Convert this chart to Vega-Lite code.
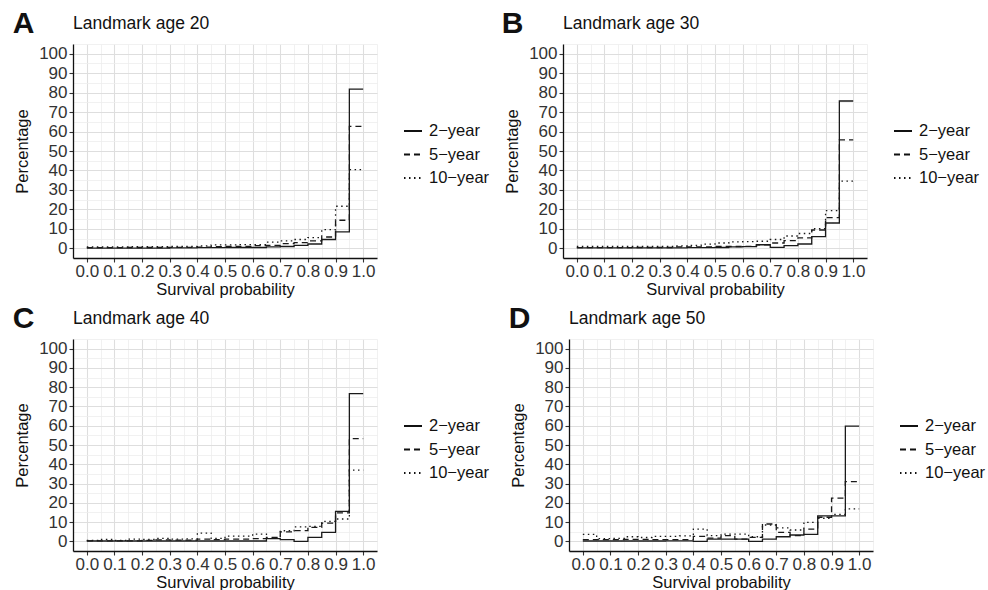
{
  "$schema": "https://vega.github.io/schema/vega-lite/v6.json",
  "background": "#ffffff",
  "padding": {"left": 12, "top": 8, "right": 5, "bottom": 5},
  "datasets": {
    "A": [
      {"x": 0.00, "2−year": 0.1, "5−year": 0.3, "10−year": 0.7},
      {"x": 0.05, "2−year": 0.1, "5−year": 0.3, "10−year": 0.7},
      {"x": 0.10, "2−year": 0.1, "5−year": 0.3, "10−year": 0.7},
      {"x": 0.15, "2−year": 0.1, "5−year": 0.4, "10−year": 0.8},
      {"x": 0.20, "2−year": 0.1, "5−year": 0.4, "10−year": 0.8},
      {"x": 0.25, "2−year": 0.1, "5−year": 0.4, "10−year": 0.8},
      {"x": 0.30, "2−year": 0.2, "5−year": 0.5, "10−year": 0.9},
      {"x": 0.35, "2−year": 0.2, "5−year": 0.5, "10−year": 1.0},
      {"x": 0.40, "2−year": 0.3, "5−year": 0.6, "10−year": 1.2},
      {"x": 0.45, "2−year": 0.3, "5−year": 0.8, "10−year": 1.7},
      {"x": 0.50, "2−year": 0.4, "5−year": 0.9, "10−year": 1.7},
      {"x": 0.55, "2−year": 0.4, "5−year": 1.0, "10−year": 1.9},
      {"x": 0.60, "2−year": 0.4, "5−year": 1.4, "10−year": 1.9},
      {"x": 0.65, "2−year": 0.7, "5−year": 1.5, "10−year": 3.2},
      {"x": 0.70, "2−year": 0.9, "5−year": 2.4, "10−year": 3.8},
      {"x": 0.75, "2−year": 1.5, "5−year": 2.9, "10−year": 4.5},
      {"x": 0.80, "2−year": 2.2, "5−year": 3.8, "10−year": 5.5},
      {"x": 0.85, "2−year": 4.5, "5−year": 5.8, "10−year": 9.6},
      {"x": 0.90, "2−year": 8.4, "5−year": 14.4, "10−year": 21.6},
      {"x": 0.95, "2−year": 81.8, "5−year": 62.7, "10−year": 40.4},
      {"x": 1.00, "2−year": 81.8, "5−year": 62.7, "10−year": 40.4}
    ],
    "B": [
      {"x": 0.00, "2−year": 0.2, "5−year": 0.3, "10−year": 0.9},
      {"x": 0.05, "2−year": 0.2, "5−year": 0.3, "10−year": 0.9},
      {"x": 0.10, "2−year": 0.2, "5−year": 0.3, "10−year": 0.9},
      {"x": 0.15, "2−year": 0.2, "5−year": 0.3, "10−year": 0.9},
      {"x": 0.20, "2−year": 0.2, "5−year": 0.4, "10−year": 0.9},
      {"x": 0.25, "2−year": 0.2, "5−year": 0.4, "10−year": 0.9},
      {"x": 0.30, "2−year": 0.2, "5−year": 0.4, "10−year": 0.9},
      {"x": 0.35, "2−year": 0.2, "5−year": 0.7, "10−year": 1.2},
      {"x": 0.40, "2−year": 0.3, "5−year": 0.7, "10−year": 1.5},
      {"x": 0.45, "2−year": 0.3, "5−year": 0.7, "10−year": 2.1},
      {"x": 0.50, "2−year": 0.4, "5−year": 0.9, "10−year": 2.7},
      {"x": 0.55, "2−year": 0.7, "5−year": 0.9, "10−year": 3.3},
      {"x": 0.60, "2−year": 0.8, "5−year": 1.0, "10−year": 3.4},
      {"x": 0.65, "2−year": 1.8, "5−year": 1.7, "10−year": 3.6},
      {"x": 0.70, "2−year": 0.5, "5−year": 2.7, "10−year": 4.5},
      {"x": 0.75, "2−year": 1.4, "5−year": 3.9, "10−year": 6.3},
      {"x": 0.80, "2−year": 2.2, "5−year": 5.3, "10−year": 7.6},
      {"x": 0.85, "2−year": 6.0, "5−year": 9.4, "10−year": 10.1},
      {"x": 0.90, "2−year": 13.0, "5−year": 15.8, "10−year": 19.4},
      {"x": 0.95, "2−year": 75.7, "5−year": 55.7, "10−year": 34.5},
      {"x": 1.00, "2−year": 75.7, "5−year": 55.7, "10−year": 34.5}
    ],
    "C": [
      {"x": 0.00, "2−year": 0.2, "5−year": 0.3, "10−year": 0.5},
      {"x": 0.05, "2−year": 0.2, "5−year": 0.3, "10−year": 1.0},
      {"x": 0.10, "2−year": 0.2, "5−year": 0.3, "10−year": 0.5},
      {"x": 0.15, "2−year": 0.2, "5−year": 0.3, "10−year": 1.2},
      {"x": 0.20, "2−year": 0.2, "5−year": 0.5, "10−year": 1.0},
      {"x": 0.25, "2−year": 0.2, "5−year": 0.8, "10−year": 1.5},
      {"x": 0.30, "2−year": 0.2, "5−year": 0.6, "10−year": 1.2},
      {"x": 0.35, "2−year": 0.2, "5−year": 0.6, "10−year": 1.3},
      {"x": 0.40, "2−year": 0.2, "5−year": 1.2, "10−year": 4.3},
      {"x": 0.45, "2−year": 0.2, "5−year": 0.9, "10−year": 1.5},
      {"x": 0.50, "2−year": 0.2, "5−year": 1.2, "10−year": 2.7},
      {"x": 0.55, "2−year": 0.2, "5−year": 1.2, "10−year": 2.7},
      {"x": 0.60, "2−year": 0.2, "5−year": 1.4, "10−year": 3.8},
      {"x": 0.65, "2−year": 1.4, "5−year": 2.0, "10−year": 1.5},
      {"x": 0.70, "2−year": 0.9, "5−year": 4.9, "10−year": 5.5},
      {"x": 0.75, "2−year": 0.0, "5−year": 5.6, "10−year": 7.5},
      {"x": 0.80, "2−year": 2.1, "5−year": 7.3, "10−year": 7.8},
      {"x": 0.85, "2−year": 4.7, "5−year": 9.5, "10−year": 10.4},
      {"x": 0.90, "2−year": 15.6, "5−year": 14.8, "10−year": 11.6},
      {"x": 0.95, "2−year": 76.7, "5−year": 53.3, "10−year": 37.0},
      {"x": 1.00, "2−year": 76.7, "5−year": 53.3, "10−year": 37.0}
    ],
    "D": [
      {"x": 0.00, "2−year": 0.2, "5−year": 0.9, "10−year": 3.6},
      {"x": 0.05, "2−year": 0.2, "5−year": 0.9, "10−year": 1.4},
      {"x": 0.10, "2−year": 0.2, "5−year": 0.9, "10−year": 1.5},
      {"x": 0.15, "2−year": 0.2, "5−year": 1.0, "10−year": 2.4},
      {"x": 0.20, "2−year": 0.2, "5−year": 1.0, "10−year": 2.0},
      {"x": 0.25, "2−year": 0.2, "5−year": 0.9, "10−year": 2.6},
      {"x": 0.30, "2−year": 0.3, "5−year": 0.9, "10−year": 2.6},
      {"x": 0.35, "2−year": 0.3, "5−year": 0.9, "10−year": 2.8},
      {"x": 0.40, "2−year": 0.0, "5−year": 2.6, "10−year": 6.4},
      {"x": 0.45, "2−year": 1.2, "5−year": 1.7, "10−year": 3.0},
      {"x": 0.50, "2−year": 1.2, "5−year": 3.0, "10−year": 3.8},
      {"x": 0.55, "2−year": 1.2, "5−year": 1.2, "10−year": 3.8},
      {"x": 0.60, "2−year": 0.0, "5−year": 2.1, "10−year": 2.4},
      {"x": 0.65, "2−year": 1.2, "5−year": 9.0, "10−year": 8.5},
      {"x": 0.70, "2−year": 2.4, "5−year": 4.7, "10−year": 7.0},
      {"x": 0.75, "2−year": 3.3, "5−year": 3.0, "10−year": 5.9},
      {"x": 0.80, "2−year": 3.6, "5−year": 6.4, "10−year": 9.9},
      {"x": 0.85, "2−year": 13.2, "5−year": 12.5, "10−year": 12.0},
      {"x": 0.90, "2−year": 13.2, "5−year": 22.4, "10−year": 14.0},
      {"x": 0.95, "2−year": 59.8, "5−year": 31.0, "10−year": 16.9},
      {"x": 1.00, "2−year": 59.8, "5−year": 31.0, "10−year": 16.9}
    ]
  },
  "concat": [
    {
      "hconcat": [
        {
          "title": {"text": "A", "anchor": "start", "fontSize": 30, "fontWeight": "bold", "color": "#111111", "offset": -24, "dx": -2},
          "hconcat": [
            {
              "width": 304, "height": 214,
              "title": {"text": "Landmark age 20", "anchor": "start", "frame": "group", "fontSize": 17.5, "fontWeight": "normal", "color": "#111111", "offset": 3},
              "data": {"name": "A"},
              "transform": [{"fold": ["2−year", "5−year", "10−year"], "as": ["series", "pct"]}],
              "mark": {"type": "line", "interpolate": "step-after", "color": "#1a1a1a", "strokeWidth": 1.3},
              "encoding": {
                "x": {"field": "x", "type": "quantitative", "title": "Survival probability",
                  "scale": {"domain": [-0.05, 1.05], "nice": false, "zero": false},
                  "axis": {"values": [-0.05, 0, 0.05, 0.1, 0.15, 0.2, 0.25, 0.3, 0.35, 0.4, 0.45, 0.5, 0.55, 0.6, 0.65, 0.7, 0.75, 0.8, 0.85, 0.9, 0.95, 1, 1.05],
                    "labelExpr": "abs(round(datum.value*20)) % 2 == 0 ? format(datum.value, '.1f') : ''",
                    "tickOpacity": {"condition": {"test": "abs(round(datum.value*20)) % 2 == 1", "value": 0}, "value": 1},
                    "gridColor": {"condition": {"test": "abs(round(datum.value*20)) % 2 == 1", "value": "#ededed"}, "value": "#dedede"},
                    "gridWidth": {"condition": {"test": "abs(round(datum.value*20)) % 2 == 1", "value": 0.8}, "value": 1.1}}},
                "y": {"field": "pct", "type": "quantitative", "title": "Percentage",
                  "scale": {"domain": [-5, 105], "nice": false, "zero": false},
                  "axis": {"values": [-5, 0, 5, 10, 15, 20, 25, 30, 35, 40, 45, 50, 55, 60, 65, 70, 75, 80, 85, 90, 95, 100, 105],
                    "labelExpr": "abs(datum.value) % 10 == 5 ? '' : format(datum.value, 'd')",
                    "tickOpacity": {"condition": {"test": "abs(datum.value) % 10 == 5", "value": 0}, "value": 1},
                    "gridColor": {"condition": {"test": "abs(datum.value) % 10 == 5", "value": "#ededed"}, "value": "#dedede"},
                    "gridWidth": {"condition": {"test": "abs(datum.value) % 10 == 5", "value": 0.8}, "value": 1.1}}},
                "strokeDash": {"field": "series", "type": "nominal",
                  "scale": {"domain": ["2−year", "5−year", "10−year"], "range": [[1, 0], [6, 4], [1.5, 3.5]]},
                  "legend": {"title": null, "orient": "none", "legendX": 330, "legendY": 77}}
              }
            }
          ],
          "resolve": {"scale": {"strokeDash": "independent"}, "legend": {"strokeDash": "independent"}}
        },
        {
          "title": {"text": "B", "anchor": "start", "fontSize": 30, "fontWeight": "bold", "color": "#111111", "offset": -24, "dx": -3},
          "hconcat": [
            {
              "width": 304, "height": 214,
              "title": {"text": "Landmark age 30", "anchor": "start", "frame": "group", "fontSize": 17.5, "fontWeight": "normal", "color": "#111111", "offset": 3},
              "data": {"name": "B"},
              "transform": [{"fold": ["2−year", "5−year", "10−year"], "as": ["series", "pct"]}],
              "mark": {"type": "line", "interpolate": "step-after", "color": "#1a1a1a", "strokeWidth": 1.3},
              "encoding": {
                "x": {"field": "x", "type": "quantitative", "title": "Survival probability",
                  "scale": {"domain": [-0.05, 1.05], "nice": false, "zero": false},
                  "axis": {"values": [-0.05, 0, 0.05, 0.1, 0.15, 0.2, 0.25, 0.3, 0.35, 0.4, 0.45, 0.5, 0.55, 0.6, 0.65, 0.7, 0.75, 0.8, 0.85, 0.9, 0.95, 1, 1.05],
                    "labelExpr": "abs(round(datum.value*20)) % 2 == 0 ? format(datum.value, '.1f') : ''",
                    "tickOpacity": {"condition": {"test": "abs(round(datum.value*20)) % 2 == 1", "value": 0}, "value": 1},
                    "gridColor": {"condition": {"test": "abs(round(datum.value*20)) % 2 == 1", "value": "#ededed"}, "value": "#dedede"},
                    "gridWidth": {"condition": {"test": "abs(round(datum.value*20)) % 2 == 1", "value": 0.8}, "value": 1.1}}},
                "y": {"field": "pct", "type": "quantitative", "title": "Percentage",
                  "scale": {"domain": [-5, 105], "nice": false, "zero": false},
                  "axis": {"values": [-5, 0, 5, 10, 15, 20, 25, 30, 35, 40, 45, 50, 55, 60, 65, 70, 75, 80, 85, 90, 95, 100, 105],
                    "labelExpr": "abs(datum.value) % 10 == 5 ? '' : format(datum.value, 'd')",
                    "tickOpacity": {"condition": {"test": "abs(datum.value) % 10 == 5", "value": 0}, "value": 1},
                    "gridColor": {"condition": {"test": "abs(datum.value) % 10 == 5", "value": "#ededed"}, "value": "#dedede"},
                    "gridWidth": {"condition": {"test": "abs(datum.value) % 10 == 5", "value": 0.8}, "value": 1.1}}},
                "strokeDash": {"field": "series", "type": "nominal",
                  "scale": {"domain": ["2−year", "5−year", "10−year"], "range": [[1, 0], [6, 4], [1.5, 3.5]]},
                  "legend": {"title": null, "orient": "none", "legendX": 330, "legendY": 77}}
              }
            }
          ],
          "resolve": {"scale": {"strokeDash": "independent"}, "legend": {"strokeDash": "independent"}}
        }
      ],
      "spacing": 11,
      "resolve": {"scale": {"strokeDash": "independent"}, "legend": {"strokeDash": "independent"}}
    },
    {
      "hconcat": [
        {
          "title": {"text": "C", "anchor": "start", "fontSize": 30, "fontWeight": "bold", "color": "#111111", "offset": -24, "dx": -2},
          "hconcat": [
            {
              "width": 304, "height": 212,
              "title": {"text": "Landmark age 40", "anchor": "start", "frame": "group", "fontSize": 17.5, "fontWeight": "normal", "color": "#111111", "offset": 3},
              "data": {"name": "C"},
              "transform": [{"fold": ["2−year", "5−year", "10−year"], "as": ["series", "pct"]}],
              "mark": {"type": "line", "interpolate": "step-after", "color": "#1a1a1a", "strokeWidth": 1.3},
              "encoding": {
                "x": {"field": "x", "type": "quantitative", "title": "Survival probability",
                  "scale": {"domain": [-0.05, 1.05], "nice": false, "zero": false},
                  "axis": {"values": [-0.05, 0, 0.05, 0.1, 0.15, 0.2, 0.25, 0.3, 0.35, 0.4, 0.45, 0.5, 0.55, 0.6, 0.65, 0.7, 0.75, 0.8, 0.85, 0.9, 0.95, 1, 1.05],
                    "labelExpr": "abs(round(datum.value*20)) % 2 == 0 ? format(datum.value, '.1f') : ''",
                    "tickOpacity": {"condition": {"test": "abs(round(datum.value*20)) % 2 == 1", "value": 0}, "value": 1},
                    "gridColor": {"condition": {"test": "abs(round(datum.value*20)) % 2 == 1", "value": "#ededed"}, "value": "#dedede"},
                    "gridWidth": {"condition": {"test": "abs(round(datum.value*20)) % 2 == 1", "value": 0.8}, "value": 1.1}}},
                "y": {"field": "pct", "type": "quantitative", "title": "Percentage",
                  "scale": {"domain": [-5, 105], "nice": false, "zero": false},
                  "axis": {"values": [-5, 0, 5, 10, 15, 20, 25, 30, 35, 40, 45, 50, 55, 60, 65, 70, 75, 80, 85, 90, 95, 100, 105],
                    "labelExpr": "abs(datum.value) % 10 == 5 ? '' : format(datum.value, 'd')",
                    "tickOpacity": {"condition": {"test": "abs(datum.value) % 10 == 5", "value": 0}, "value": 1},
                    "gridColor": {"condition": {"test": "abs(datum.value) % 10 == 5", "value": "#ededed"}, "value": "#dedede"},
                    "gridWidth": {"condition": {"test": "abs(datum.value) % 10 == 5", "value": 0.8}, "value": 1.1}}},
                "strokeDash": {"field": "series", "type": "nominal",
                  "scale": {"domain": ["2−year", "5−year", "10−year"], "range": [[1, 0], [6, 4], [1.5, 3.5]]},
                  "legend": {"title": null, "orient": "none", "legendX": 330, "legendY": 77}}
              }
            }
          ],
          "resolve": {"scale": {"strokeDash": "independent"}, "legend": {"strokeDash": "independent"}}
        },
        {
          "title": {"text": "D", "anchor": "start", "fontSize": 30, "fontWeight": "bold", "color": "#111111", "offset": -24, "dx": -2},
          "hconcat": [
            {
              "width": 304, "height": 212,
              "title": {"text": "Landmark age 50", "anchor": "start", "frame": "group", "fontSize": 17.5, "fontWeight": "normal", "color": "#111111", "offset": 3},
              "data": {"name": "D"},
              "transform": [{"fold": ["2−year", "5−year", "10−year"], "as": ["series", "pct"]}],
              "mark": {"type": "line", "interpolate": "step-after", "color": "#1a1a1a", "strokeWidth": 1.3},
              "encoding": {
                "x": {"field": "x", "type": "quantitative", "title": "Survival probability",
                  "scale": {"domain": [-0.05, 1.05], "nice": false, "zero": false},
                  "axis": {"values": [-0.05, 0, 0.05, 0.1, 0.15, 0.2, 0.25, 0.3, 0.35, 0.4, 0.45, 0.5, 0.55, 0.6, 0.65, 0.7, 0.75, 0.8, 0.85, 0.9, 0.95, 1, 1.05],
                    "labelExpr": "abs(round(datum.value*20)) % 2 == 0 ? format(datum.value, '.1f') : ''",
                    "tickOpacity": {"condition": {"test": "abs(round(datum.value*20)) % 2 == 1", "value": 0}, "value": 1},
                    "gridColor": {"condition": {"test": "abs(round(datum.value*20)) % 2 == 1", "value": "#ededed"}, "value": "#dedede"},
                    "gridWidth": {"condition": {"test": "abs(round(datum.value*20)) % 2 == 1", "value": 0.8}, "value": 1.1}}},
                "y": {"field": "pct", "type": "quantitative", "title": "Percentage",
                  "scale": {"domain": [-5, 105], "nice": false, "zero": false},
                  "axis": {"values": [-5, 0, 5, 10, 15, 20, 25, 30, 35, 40, 45, 50, 55, 60, 65, 70, 75, 80, 85, 90, 95, 100, 105],
                    "labelExpr": "abs(datum.value) % 10 == 5 ? '' : format(datum.value, 'd')",
                    "tickOpacity": {"condition": {"test": "abs(datum.value) % 10 == 5", "value": 0}, "value": 1},
                    "gridColor": {"condition": {"test": "abs(datum.value) % 10 == 5", "value": "#ededed"}, "value": "#dedede"},
                    "gridWidth": {"condition": {"test": "abs(datum.value) % 10 == 5", "value": 0.8}, "value": 1.1}}},
                "strokeDash": {"field": "series", "type": "nominal",
                  "scale": {"domain": ["2−year", "5−year", "10−year"], "range": [[1, 0], [6, 4], [1.5, 3.5]]},
                  "legend": {"title": null, "orient": "none", "legendX": 330, "legendY": 77}}
              }
            }
          ],
          "resolve": {"scale": {"strokeDash": "independent"}, "legend": {"strokeDash": "independent"}}
        }
      ],
      "spacing": 18,
      "resolve": {"scale": {"strokeDash": "independent"}, "legend": {"strokeDash": "independent"}}
    }
  ],
  "columns": 1,
  "align": "none",
  "spacing": 5,
  "resolve": {"scale": {"strokeDash": "independent"}, "legend": {"strokeDash": "independent"}},
  "config": {
    "font": "Liberation Sans",
    "view": {"stroke": null},
    "axis": {
      "labelFontSize": 17, "titleFontSize": 16.5, "labelColor": "#333333", "titleColor": "#111111",
      "titleFontWeight": "normal", "domainColor": "#111111", "domainWidth": 1.3,
      "tickColor": "#333333", "tickSize": 4, "tickWidth": 1.1, "labelPadding": 2,
      "labelOverlap": false, "labelFlush": false, "labelBound": false, "titlePadding": 2
    },
    "axisX": {"labelPadding": 1},
    "axisY": {"titlePadding": 8},
    "legend": {
      "symbolType": "stroke", "symbolSize": 324, "symbolStrokeWidth": 2, "symbolStrokeColor": "#111111",
      "labelFontSize": 16.5, "labelColor": "#111111", "labelOffset": 6, "rowPadding": 4.5, "padding": 0
    }
  }
}
